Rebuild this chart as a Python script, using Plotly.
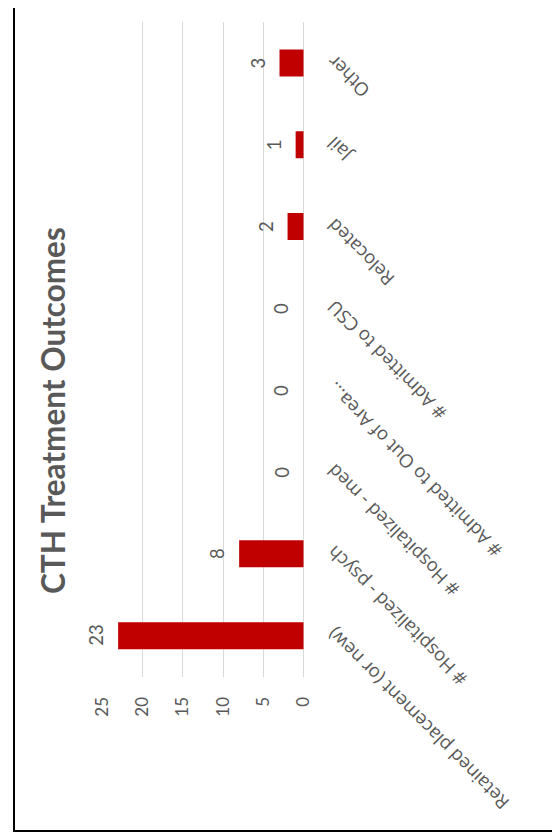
import plotly.graph_objects as go

# ---- data ----
categories = [
    "Retained placement (or new)",
    "# Hospitalized - psych",
    "# Hospitalized - med",
    "# Admitted to Out of Area...",
    "# Admitted to CSU",
    "Relocated",
    "Jail",
    "Other",
]
values = [23, 8, 0, 0, 0, 2, 1, 3]
value_ticks = [0, 5, 10, 15, 20, 25]
value_tick_labels = ["0", "5", "10", "15", "20", "25"]
title_text = "CTH Treatment Outcomes"

# page body has an 8px margin; figure is drawn inside it
OFF = 8
W, H = 560 - OFF, 840 - OFF
GRAY = "#595959"
NUM_FONT = "Lato"
CAT_FONT = "Open Sans"


def px(xp):
    return (xp - OFF) / W


def py(yp):
    return 1 - (yp - OFF) / H


fig = go.Figure(
    go.Bar(
        x=values,
        y=categories,
        orientation="h",
        marker=dict(color="#C00000", line=dict(width=0)),
        hoverinfo="x+y",
    )
)

fig.update_layout(
    width=W,
    height=H,
    autosize=False,
    margin=dict(l=0, r=0, t=0, b=0, pad=0),
    paper_bgcolor="white",
    plot_bgcolor="white",
    bargap=0.67,
    showlegend=False,
    xaxis=dict(
        domain=[px(102), px(303.7)],
        range=[25, 0],
        tickvals=value_ticks,
        ticktext=value_tick_labels,
        tickangle=-90,
        tickfont=dict(family=NUM_FONT, size=17, color=GRAY),
        showgrid=True,
        gridcolor="#d9d9d9",
        gridwidth=1,
        zeroline=True,
        zerolinecolor="#d9d9d9",
        zerolinewidth=1,
        showline=False,
        ticks="",
        ticklabelstandoff=16,
        automargin=False,
        fixedrange=True,
    ),
    yaxis=dict(
        type="category",
        categoryorder="array",
        categoryarray=categories,
        range=[-0.5, len(categories) - 0.5],
        domain=[py(676.6), py(22)],
        anchor="free",
        position=px(329),
        side="left",
        tickangle=-135,
        tickfont=dict(family=CAT_FONT, size=18.5, color=GRAY),
        showgrid=False,
        zeroline=False,
        showline=False,
        ticks="",
        automargin=False,
        fixedrange=True,
    ),
)

# data labels
for c, v in zip(categories, values):
    fig.add_annotation(
        x=v, y=c, xref="x", yref="y",
        text=str(v), textangle=-90, showarrow=False,
        xshift=-22,
        font=dict(family=NUM_FONT, size=18.5, color=GRAY),
    )

# title
fig.add_annotation(
    x=px(53), y=py(411), xref="paper", yref="paper",
    text="<b>" + title_text + "</b>", textangle=-90, showarrow=False,
    xanchor="center", yanchor="middle",
    font=dict(family=NUM_FONT, size=31.5, color=GRAY),
)

# outer frame (top edge lies outside the page)
fig.add_shape(
    type="rect", xref="paper", yref="paper",
    x0=px(14), x1=px(557), y0=py(831), y1=1.1,
    line=dict(color="black", width=2), fillcolor="rgba(0,0,0,0)",
    layer="above",
)

fig.write_html("out.html")
